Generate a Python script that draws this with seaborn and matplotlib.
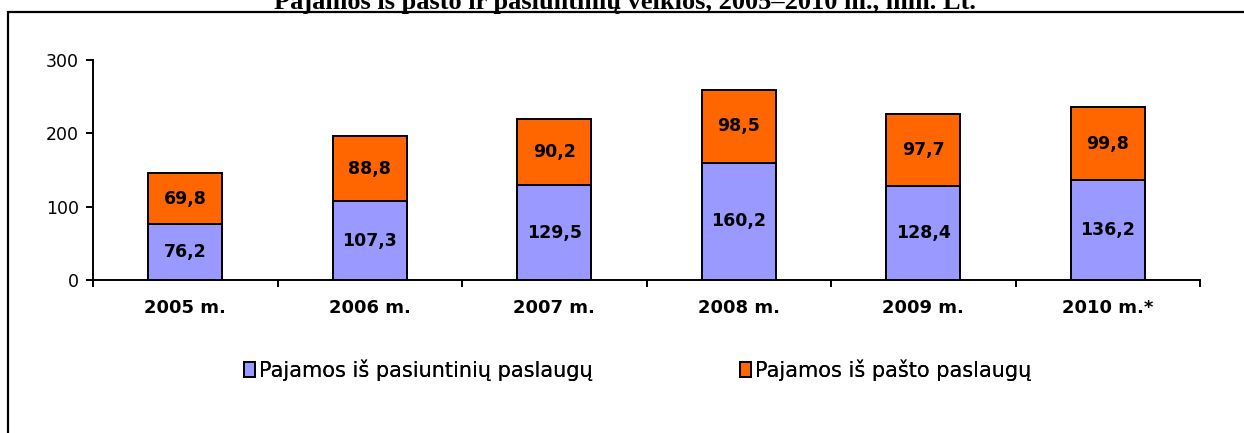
import numpy as np
import pandas as pd
import matplotlib
matplotlib.use("Agg")
import matplotlib.pyplot as plt
from matplotlib.lines import Line2D
from matplotlib.patches import Patch
import seaborn as sns

# duomenys (mln. Lt)
years = ["2005 m.", "2006 m.", "2007 m.", "2008 m.", "2009 m.", "2010 m.*"]
pasiuntiniu = [76.2, 107.3, 129.5, 160.2, 128.4, 136.2]
pasto = [69.8, 88.8, 90.2, 98.5, 97.7, 99.8]
series_names = ["Pajamos iš pasiuntinių paslaugų", "Pajamos iš pašto paslaugų"]
title = "Pajamos iš pašto ir pasiuntinių veiklos, 2005–2010 m., mln. Lt."

purple = "#9999FF"
orange = "#FF6600"

sns.set_style("white")
plt.rcParams["font.family"] = ["DejaVu Sans"]
for k in ["text.color", "axes.labelcolor", "xtick.color", "ytick.color"]:
    plt.rcParams[k] = "black"

df = pd.DataFrame({"year": years, "pasiuntiniu": pasiuntiniu, "pasto": pasto})
df["total"] = df["pasiuntiniu"] + df["pasto"]

fig = plt.figure(figsize=(12.44, 4.33), dpi=100)
ax = fig.add_axes([93 / 1244, 1 - 280 / 433, (1200 - 93) / 1244, 220 / 433])

# sukrauti stulpeliai: pirmiausia suma (oranžinė), ant jos apatinė dalis (violetinė)
sns.barplot(data=df, x="year", y="total", color=orange, width=0.4,
            edgecolor="black", linewidth=1.4, saturation=1, ax=ax)
sns.barplot(data=df, x="year", y="pasiuntiniu", color=purple, width=0.4,
            edgecolor="black", linewidth=1.4, saturation=1, ax=ax)

for i, row in df.iterrows():
    ax.text(i, row["pasiuntiniu"] / 2, f"{row['pasiuntiniu']:.1f}".replace(".", ","),
            ha="center", va="center", fontsize=12.5, fontweight="bold")
    ax.text(i, row["pasiuntiniu"] + row["pasto"] / 2, f"{row['pasto']:.1f}".replace(".", ","),
            ha="center", va="center", fontsize=12.5, fontweight="bold")

ax.set_ylim(0, 300)
ax.set_xlim(-0.5, len(years) - 0.5)
ax.set_yticks([0, 100, 200, 300])
ax.set_xlabel("")
ax.set_ylabel("")
ax.set_xticks(np.arange(-0.5, len(years)), minor=True)
ax.tick_params(axis="x", which="major", length=0, pad=14, labelsize=13)
ax.tick_params(axis="x", which="minor", length=5, width=1.4, color="black", direction="out", bottom=True)
ax.tick_params(axis="y", which="major", length=5, width=1.4, color="black", direction="out",
               left=True, pad=5, labelsize=12.5)
for lab in ax.get_xticklabels():
    lab.set_fontweight("bold")

sns.despine(ax=ax)
for s in ["left", "bottom"]:
    ax.spines[s].set_linewidth(1.4)
    ax.spines[s].set_color("black")

# legenda - du atskiri įrašai
handles = [Patch(facecolor=purple, edgecolor="black", linewidth=1.4),
           Patch(facecolor=orange, edgecolor="black", linewidth=1.4)]
leg_x = [244 / 1244, 740 / 1244]
for h, name, lx in zip(handles, series_names, leg_x):
    lg = fig.legend([h], [name], loc="center left", bbox_to_anchor=(lx, 1 - 370 / 433),
                    frameon=False, fontsize=15, handlelength=0.52, handleheight=0.72,
                    handletextpad=0.2, borderpad=0, borderaxespad=0)
    fig.add_artist(lg)

# pavadinimas (nukirptas viršuje) ir rėmelis
fig.text(0.502, 1 - 9 / 433, title, ha="center", va="baseline", fontsize=19,
         fontweight="bold", family="Liberation Serif")
fig.add_artist(Line2D([8 / 1244, 8 / 1244], [0, 1 - 12 / 433], transform=fig.transFigure,
                      color="black", linewidth=1.6))
fig.add_artist(Line2D([8 / 1244, 1], [1 - 12 / 433, 1 - 12 / 433], transform=fig.transFigure,
                      color="black", linewidth=1.6))

fig.savefig("out.png", dpi=100)
